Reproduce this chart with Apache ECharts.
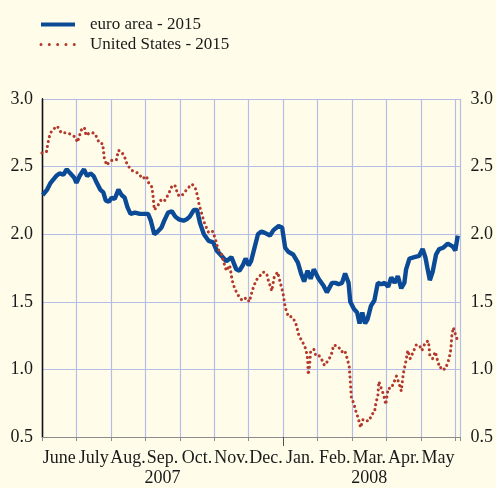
<!DOCTYPE html>
<html>
<head>
<meta charset="utf-8">
<script src="https://cdn.jsdelivr.net/npm/echarts@6/dist/echarts.min.js"></script>
<style>
  html, body { margin: 0; padding: 0; background: #fffde9; }
  #chart { width: 496px; height: 488px; }
</style>
</head>
<body>
<div id="chart"></div>
<script>
// 横轴月份（2007年6月 - 2008年5月）
const monthNames = ['June', 'July', 'Aug.', 'Sep.', 'Oct.', 'Nov.', 'Dec.', 'Jan.', 'Feb.', 'Mar.', 'Apr.', 'May']
const years = ['2007', '2008']
// Jan. 的位置，也就是年份分界
const yearBreak = 7

// 纵轴刻度
const yTicks = [0.5, 1.0, 1.5, 2.0, 2.5, 3.0]

// euro area - 2015：横坐标为自6月1日起的月数
const euroMonths = [
  0.02, 0.15, 0.25, 0.41, 0.51, 0.62, 0.72, 0.82, 0.93,
  1.00, 1.09, 1.22, 1.31, 1.41, 1.50, 1.59, 1.69, 1.78, 1.85, 1.94,
  2.02, 2.11, 2.22, 2.31, 2.40, 2.48, 2.57, 2.70, 2.84, 2.98,
  3.08, 3.16, 3.26, 3.36, 3.47, 3.55, 3.66, 3.77, 3.87, 3.97,
  4.11, 4.20, 4.29, 4.41, 4.50, 4.59, 4.70, 4.84, 4.97,
  5.07, 5.21, 5.35, 5.50, 5.64, 5.73, 5.83, 5.91,
  6.00, 6.07, 6.17, 6.27, 6.37, 6.47, 6.62, 6.72, 6.87, 6.97,
  7.06, 7.15, 7.29, 7.43, 7.52, 7.61, 7.71, 7.80, 7.89,
  8.03, 8.17, 8.27, 8.42, 8.52, 8.61, 8.71, 8.80, 8.90, 8.95,
  9.05, 9.15, 9.22, 9.30, 9.38, 9.45, 9.55, 9.65, 9.75, 9.85, 9.95,
  10.05, 10.14, 10.24, 10.33, 10.43, 10.52, 10.57, 10.67, 10.81, 10.95,
  11.05, 11.13, 11.19, 11.26, 11.34, 11.44, 11.53, 11.65, 11.78, 11.92, 12.00, 12.07
]
const euroValues = [
  2.29, 2.33, 2.38, 2.43, 2.45, 2.44, 2.48, 2.45, 2.42,
  2.38, 2.43, 2.48, 2.43, 2.45, 2.43, 2.38, 2.33, 2.31, 2.25, 2.24,
  2.27, 2.26, 2.33, 2.29, 2.27, 2.20, 2.15, 2.16, 2.15, 2.15,
  2.15, 2.10, 2.00, 2.02, 2.05, 2.10, 2.16, 2.17, 2.13, 2.11,
  2.10, 2.11, 2.13, 2.18, 2.18, 2.08, 2.00, 1.95, 1.94,
  1.88, 1.84, 1.80, 1.83, 1.74, 1.73, 1.77, 1.82,
  1.77, 1.80, 1.90, 2.00, 2.02, 2.01, 1.99, 2.03, 2.06, 2.05,
  1.90, 1.87, 1.85, 1.79, 1.71, 1.65, 1.73, 1.67, 1.74,
  1.67, 1.62, 1.57, 1.64, 1.64, 1.63, 1.64, 1.71, 1.64, 1.50,
  1.45, 1.42, 1.34, 1.42, 1.34, 1.37, 1.47, 1.51, 1.64, 1.63, 1.64,
  1.61, 1.68, 1.64, 1.69, 1.60, 1.64, 1.74, 1.82, 1.83, 1.84,
  1.89, 1.83, 1.75, 1.66, 1.72, 1.85, 1.89, 1.90, 1.93, 1.91, 1.88, 1.99
]

// United States - 2015
const usMonths = [
  0.00, 0.04, 0.13, 0.17, 0.23, 0.30, 0.44, 0.56, 0.72, 0.82, 0.96,
  1.03, 1.14, 1.23, 1.28, 1.38, 1.47, 1.55, 1.61, 1.69, 1.76, 1.81, 1.88, 1.97,
  2.07, 2.16, 2.22, 2.31, 2.40, 2.48, 2.62, 2.71, 2.80, 2.92,
  3.03, 3.11, 3.19, 3.22, 3.26, 3.36, 3.47, 3.57, 3.68, 3.78, 3.86, 3.95,
  4.04, 4.14, 4.23, 4.36, 4.45, 4.52, 4.56, 4.66, 4.72, 4.84, 4.96,
  5.05, 5.11, 5.21, 5.28, 5.35, 5.45, 5.52, 5.59, 5.69, 5.81, 5.93,
  6.02, 6.07, 6.14, 6.22, 6.32, 6.42, 6.52, 6.57, 6.67, 6.74, 6.84, 6.93,
  7.00, 7.06, 7.15, 7.25, 7.29, 7.36, 7.46, 7.57, 7.66, 7.71, 7.73, 7.77, 7.80, 7.89, 7.95,
  8.05, 8.11, 8.20, 8.32, 8.40, 8.47, 8.60, 8.70, 8.79, 8.86, 8.92, 8.95, 8.98,
  9.05, 9.10, 9.18, 9.25, 9.32, 9.40, 9.50, 9.58, 9.65, 9.70, 9.75, 9.78, 9.85, 9.92, 9.98,
  10.05, 10.14, 10.21, 10.29, 10.36, 10.43, 10.49, 10.55, 10.62, 10.69, 10.78, 10.86, 10.95,
  11.03, 11.13, 11.22, 11.26, 11.34, 11.42, 11.48, 11.55, 11.63, 11.68, 11.75, 11.82, 11.87, 11.90, 11.94, 12.00, 12.07
]
const usValues = [
  2.60, 2.61, 2.61, 2.67, 2.74, 2.77, 2.80, 2.75, 2.75, 2.74, 2.72,
  2.68, 2.77, 2.79, 2.73, 2.75, 2.75, 2.74, 2.70, 2.67, 2.67, 2.56, 2.51, 2.54,
  2.55, 2.55, 2.62, 2.61, 2.57, 2.51, 2.47, 2.46, 2.45, 2.41,
  2.43, 2.37, 2.35, 2.29, 2.18, 2.21, 2.26, 2.25, 2.30, 2.36, 2.36, 2.29,
  2.28, 2.31, 2.34, 2.37, 2.34, 2.28, 2.22, 2.13, 2.08, 2.01, 2.02,
  1.95, 1.89, 1.85, 1.79, 1.73, 1.77, 1.66, 1.60, 1.55, 1.51, 1.53,
  1.50, 1.55, 1.61, 1.66, 1.69, 1.72, 1.71, 1.66, 1.58, 1.68, 1.72, 1.63,
  1.56, 1.46, 1.39, 1.39, 1.38, 1.35, 1.25, 1.20, 1.15, 1.08, 0.96, 1.03, 1.13, 1.15, 1.10,
  1.10, 1.08, 1.03, 1.07, 1.11, 1.18, 1.17, 1.13, 1.14, 1.08, 1.02, 0.91, 0.79,
  0.75, 0.70, 0.64, 0.57, 0.63, 0.62, 0.62, 0.67, 0.68, 0.76, 0.80, 0.91, 0.86, 0.81, 0.74,
  0.86, 0.86, 0.90, 0.95, 0.90, 0.84, 0.97, 1.04, 1.14, 1.08, 1.13, 1.18, 1.18,
  1.14, 1.20, 1.21, 1.10, 1.08, 1.13, 1.07, 1.01, 1.02, 1.00, 1.03, 1.08, 1.15, 1.25, 1.31, 1.26, 1.21
]

window.onload = function () {
  // 1. 初始化
  let mychart = echarts.init(document.querySelector('#chart'))

  let euroData = euroMonths.map((m, i) => [m, euroValues[i]])
  let usData = usMonths.map((m, i) => [m, usValues[i]])

  // 月份标签放在每个月的中间
  let labelValues = monthNames.map((_, i) => i + 0.5)
  // 年份写在各自月份段中间的那个月下面
  let yearUnder = [Math.floor(yearBreak / 2), yearBreak + Math.floor((monthNames.length - yearBreak) / 2)]

  let serif = 'Liberation Serif'
  let gridColor = '#b5bde6'
  let blue = '#0b4a96'
  let red = '#b3392d'

  let legendText = {
    fontFamily: serif,
    fontSize: 17,
    color: '#1a1a1a'
  }

  let yAxisBase = {
    type: 'value',
    min: yTicks[0],
    max: yTicks[yTicks.length - 1],
    interval: yTicks[1] - yTicks[0],
    axisLine: { show: true, lineStyle: { color: '#111', width: 1.3 } },
    axisTick: { show: false },
    axisLabel: {
      formatter: v => v.toFixed(1),
      fontFamily: serif,
      fontSize: 18,
      color: '#1a1a1a'
    }
  }

  // 2. 配置项
  let option = {
    backgroundColor: '#fffde9',
    animation: false,
    textStyle: { fontFamily: serif },
    legend: {
      orient: 'vertical',
      left: 39,
      top: 16,
      padding: 0,
      itemWidth: 34,
      itemHeight: 18,
      itemGap: 3,
      textStyle: legendText,
      formatter: name => '{t|' + name + '}',
      // 图例只要线，不要圆点
      itemStyle: { opacity: 0 },
      data: [
        {
          name: 'euro area - 2015',
          itemStyle: { opacity: 0 },
          lineStyle: { color: blue, width: 4, type: 'solid' }
        },
        {
          name: 'United States - 2015',
          itemStyle: { opacity: 0 },
          lineStyle: { color: red, width: 3, type: [0.01, 8.3], cap: 'round' }
        }
      ]
    },
    grid: { left: 42, right: 34, top: 99, bottom: 48 },
    xAxis: [
      {
        type: 'value',
        min: 0,
        max: 12.15,
        interval: 1,
        position: 'bottom',
        axisLine: { lineStyle: { color: '#8c8c8c', width: 1.2 } },
        axisTick: { length: 4, lineStyle: { color: '#8c8c8c' } },
        splitLine: { lineStyle: { color: gridColor, width: 1.2 } },
        axisLabel: {
          customValues: labelValues,
          formatter: function (v) {
            let i = Math.floor(v)
            let y = yearUnder.indexOf(i)
            return monthNames[i] + (y >= 0 ? '\n' + years[y] : '')
          },
          margin: 11,
          lineHeight: 20,
          fontFamily: serif,
          fontSize: 18,
          color: '#1a1a1a'
        }
      },
      {
        // 只用来画 1 月份的长刻度
        type: 'value',
        min: 0,
        max: 12.15,
        position: 'bottom',
        axisLine: { show: false },
        axisLabel: { show: false },
        splitLine: { show: false },
        axisTick: { customValues: [yearBreak], length: 9, lineStyle: { color: '#555' } }
      }
    ],
    yAxis: [
      Object.assign({}, yAxisBase, {
        position: 'left',
        axisLabel: Object.assign({}, yAxisBase.axisLabel, { margin: 9 }),
        splitLine: { lineStyle: { color: gridColor, width: 1.2 } }
      }),
      Object.assign({}, yAxisBase, {
        position: 'right',
        axisLabel: Object.assign({}, yAxisBase.axisLabel, { margin: 10 }),
        splitLine: { show: false }
      })
    ],
    series: [
      {
        name: 'euro area - 2015',
        type: 'line',
        data: euroData,
        symbol: 'none',
        showSymbol: false,
        itemStyle: { color: blue },
        lineStyle: { color: blue, width: 4.4 },
        z: 2
      },
      {
        name: 'United States - 2015',
        type: 'line',
        data: usData,
        symbol: 'none',
        showSymbol: false,
        itemStyle: { color: red },
        lineStyle: { color: red, width: 3.1, type: [0.01, 5], cap: 'round' },
        z: 3
      }
    ]
  }
  // 图例文字左边多留一点空
  option.legend.textStyle.rich = {
    t: Object.assign({}, legendText, { padding: [0, 0, 0, 10] })
  }

  // 3. 渲染
  mychart.setOption(option)
}
</script>
</body>
</html>
